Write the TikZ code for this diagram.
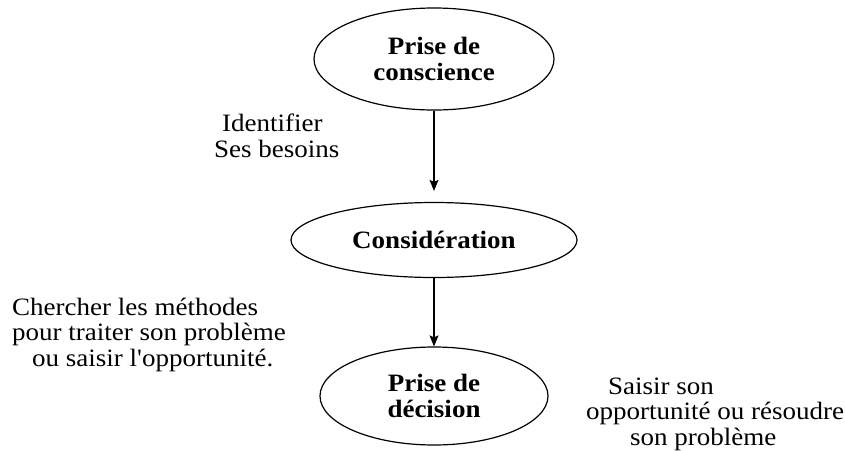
\documentclass[tikz,border=0pt]{standalone}
\usepackage{fontspec}
\setmainfont[FakeStretch=1.08,Ligatures=TeXOff]{Liberation Serif}
\usetikzlibrary{shapes.geometric,arrows.meta}
\begin{document}
\begin{tikzpicture}[x=1pt,y=-1pt,
  stage/.style={ellipse,draw,line width=1.2pt,inner sep=0pt,align=center,
    font=\fontsize{25}{26}\selectfont\bfseries},
  note/.style={inner sep=0pt,align=left,font=\fontsize{25}{25.5}\selectfont},
  flow/.style={line width=1.2pt,-{Stealth[length=11pt,width=9pt,inset=2pt]}}]
\useasboundingbox (0,0) rectangle (845,450);
\node[stage,minimum width=240pt,minimum height=102pt] (aware) at (434,59) {Prise de\\conscience};
\node[stage,minimum width=286pt,minimum height=75pt] (consid) at (434,240) {Considération};
\node[stage,minimum width=228pt,minimum height=98pt] (decide) at (434,396) {Prise de\\décision};
\draw[flow,shorten >=11pt] (aware) -- (consid);
\draw[flow] (consid) -- (decide);
\node[note,anchor=base west] (needs) at (214,157) {\hspace*{8pt}Identifier\\Ses besoins};
\node[note,anchor=base west] (methods) at (12,366) {Chercher les méthodes\\pour traiter son problème\\\hspace*{20pt}ou saisir l'opportunité.};
\node[note,anchor=base west] (outcome) at (586,445) {\hspace*{22pt}Saisir son\\opportunité ou résoudre\\\hspace*{44pt}son problème};
\end{tikzpicture}
\end{document}
